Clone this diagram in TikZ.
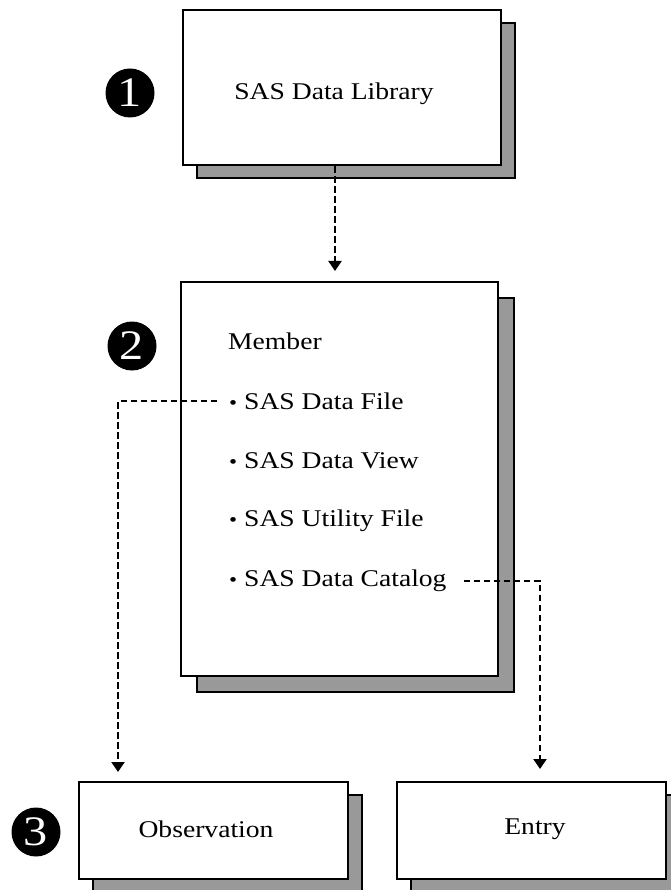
\documentclass[tikz,border=0pt]{standalone}
\usepackage{fontspec}
\setmainfont{Liberation Serif}[FakeStretch=1.15]
\usetikzlibrary{arrows.meta}
\definecolor{shadowgray}{RGB}{153,153,153}
\tikzset{
  frontbox/.style={draw=black, line width=2.2pt, fill=white, inner sep=0pt},
  shadowbox/.style={draw=black, line width=2.2pt, fill=shadowgray, inner sep=0pt},
  boxtext/.style={anchor=base, inner sep=0pt, font=\fontsize{24}{28}\selectfont},
  itemtext/.style={anchor=west, inner sep=0pt, font=\fontsize{24}{28}\selectfont},
  conn/.style={line width=2.2pt, dash pattern=on 6.5pt off 3.5pt,
    -{Triangle[width=13pt,length=10pt]}},
  numdisc/.style={circle, fill=black, minimum size=49pt, inner sep=0pt,
    text=white, font=\fontsize{42}{42}\selectfont}
}
\newcommand{\itembul}{{\fontsize{20}{20}\selectfont\textbullet}\ }
\begin{document}
\begin{tikzpicture}[x=1pt,y=-1pt]
\useasboundingbox[fill=white] (0,0) rectangle (670,890);
% top box
\node[shadowbox, minimum width=318pt, minimum height=155pt] (libsh) at (356,100.5) {};
\node[frontbox, minimum width=318pt, minimum height=155pt] (lib) at (342,87.5) {};
\node[boxtext] (libtxt) at (334,100) {SAS Data Library};
% middle box
\node[shadowbox, minimum width=317pt, minimum height=394pt] (memsh) at (355.5,495) {};
\node[frontbox, minimum width=317pt, minimum height=394pt] (mem) at (339.5,479) {};
\node[itemtext] (member) at (228,341) {Member};
\node[itemtext] (file) at (229,401) {\itembul SAS Data File};
\node[itemtext] (view) at (229,461) {\itembul SAS Data View};
\node[itemtext] (util) at (229,521) {\itembul SAS Utility File};
\node[itemtext] (cat) at (229,581) {\itembul SAS Data Catalog};
% bottom boxes
\node[shadowbox, minimum width=269pt, minimum height=97pt] (obssh) at (227.5,843.5) {};
\node[frontbox, minimum width=269pt, minimum height=97pt] (obs) at (213.5,830.5) {};
\node[boxtext] (obstxt) at (206,837) {Observation};
\node[shadowbox, minimum width=269pt, minimum height=97pt] (entsh) at (545.5,843.5) {};
\node[frontbox, minimum width=269pt, minimum height=97pt] (ent) at (531.5,830.5) {};
\node[boxtext] (enttxt) at (535,834) {Entry};
% numbers
\node[numdisc] (n1) at (130,93) {1};
\node[numdisc] (n2) at (132,346) {2};
\node[numdisc] (n3) at (36,832) {3};
% connectors
\coordinate (tip1) at (335,271);
\coordinate (tipL) at (118,772);
\coordinate (tipR) at (540,769);
\draw[conn] (lib.south -| tip1) -- (tip1);
\draw[conn] ([xshift=-12pt]file.west) -| (tipL);
\draw[conn] ([xshift=17pt]cat.east) -| (tipR);
\end{tikzpicture}
\end{document}
